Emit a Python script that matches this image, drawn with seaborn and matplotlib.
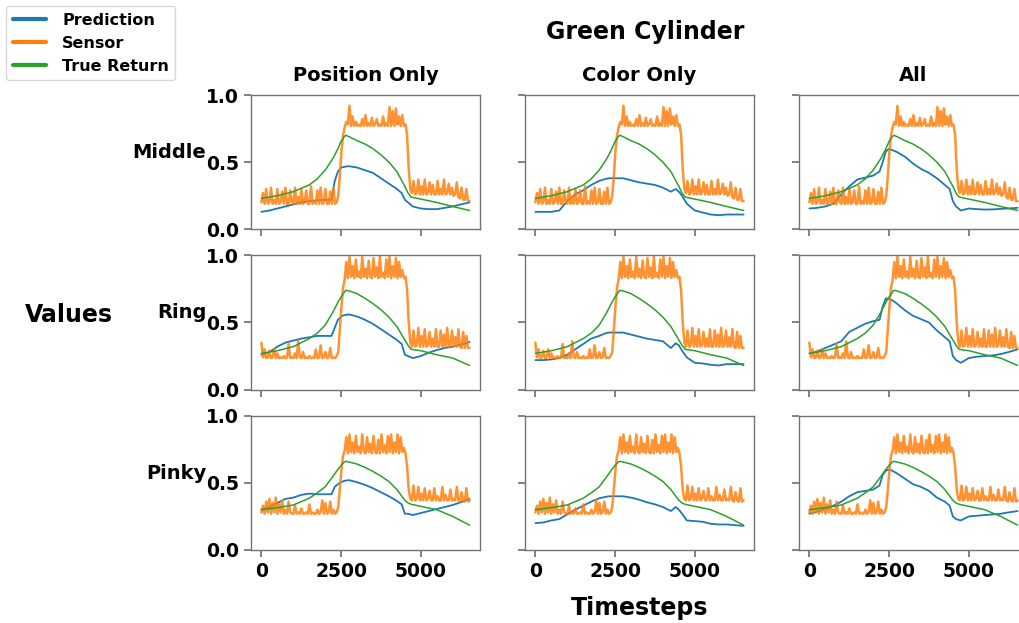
import numpy as np
import matplotlib
matplotlib.use("Agg")
import matplotlib.pyplot as plt
import seaborn as sns

# ---------------- data ----------------
rows = ["Middle", "Ring", "Pinky"]
cols = ["Position Only", "Color Only", "All"]
series_names = ["Prediction", "Sensor", "True Return"]
xticks = [0, 2500, 5000]
yticks = [0.0, 0.5, 1.0]
t_end = 6530

# sensor readings, sampled every ~50 timesteps
sensor_middle = [
    0.20, 0.27, 0.19, 0.30, 0.19, 0.20, 0.31, 0.19, 0.22, 0.19,
    0.30, 0.19, 0.20, 0.28, 0.19, 0.31, 0.19, 0.19, 0.29, 0.20,
    0.19, 0.31, 0.19, 0.24, 0.19, 0.30, 0.19, 0.20, 0.29, 0.19,
    0.19, 0.32, 0.19, 0.21, 0.19, 0.29, 0.19, 0.31, 0.19, 0.20,
    0.30, 0.19, 0.19, 0.28, 0.19, 0.31, 0.19, 0.20,
    0.25, 0.40, 0.58, 0.70, 0.76, 0.80,
    0.78, 0.92, 0.77, 0.84, 0.77, 0.80, 0.77, 0.78, 0.77, 0.82,
    0.77, 0.85, 0.77, 0.79, 0.77, 0.83, 0.77, 0.78, 0.82, 0.77,
    0.78, 0.77, 0.84, 0.77, 0.79, 0.77, 0.91, 0.77, 0.88, 0.77,
    0.90, 0.78, 0.84, 0.77, 0.85, 0.77, 0.78,
    0.70, 0.45, 0.30, 0.27,
    0.36, 0.26, 0.27, 0.37, 0.26, 0.32, 0.26, 0.37, 0.26, 0.27,
    0.35, 0.26, 0.33, 0.26, 0.26, 0.36, 0.26, 0.30, 0.26, 0.37,
    0.26, 0.27, 0.34, 0.26, 0.31, 0.25, 0.26, 0.35, 0.24, 0.23,
    0.31, 0.22, 0.22, 0.30, 0.21, 0.21,
]
sensor_ring = [
    0.35, 0.24, 0.30, 0.235, 0.24, 0.29, 0.235, 0.24, 0.30, 0.235,
    0.27, 0.235, 0.24, 0.235, 0.25, 0.235, 0.24, 0.34, 0.235, 0.24,
    0.235, 0.27, 0.235, 0.36, 0.24, 0.235, 0.28, 0.235, 0.24, 0.235,
    0.25, 0.235, 0.24, 0.235, 0.30, 0.235, 0.24, 0.33, 0.235, 0.24,
    0.28, 0.235, 0.24, 0.31, 0.235, 0.24, 0.235, 0.25,
    0.28, 0.45, 0.62, 0.76, 0.82, 0.95,
    0.83, 0.99, 0.84, 0.92, 0.83, 0.97, 0.84, 0.88, 0.83, 0.99,
    0.84, 0.90, 0.83, 0.96, 0.84, 0.83, 0.98, 0.84, 0.91, 0.83,
    0.99, 0.84, 0.87, 0.83, 0.97, 0.84, 0.99, 0.83, 0.92, 0.84,
    0.98, 0.83, 0.95, 0.84, 0.89, 0.83, 0.84,
    0.74, 0.50, 0.35, 0.32,
    0.44, 0.32, 0.33, 0.46, 0.32, 0.40, 0.32, 0.45, 0.32, 0.33,
    0.43, 0.32, 0.38, 0.32, 0.45, 0.32, 0.32, 0.44, 0.32, 0.41,
    0.32, 0.46, 0.32, 0.33, 0.44, 0.32, 0.39, 0.32, 0.45, 0.32,
    0.31, 0.43, 0.31, 0.40, 0.31, 0.31,
]
sensor_pinky = [
    0.28, 0.33, 0.27, 0.36, 0.28, 0.38, 0.27, 0.35, 0.28, 0.39,
    0.27, 0.34, 0.28, 0.37, 0.27, 0.30, 0.27, 0.36, 0.28, 0.27,
    0.27, 0.33, 0.27, 0.28, 0.27, 0.31, 0.27, 0.27, 0.28, 0.27,
    0.34, 0.27, 0.28, 0.27, 0.27, 0.30, 0.27, 0.28, 0.37, 0.27,
    0.35, 0.27, 0.28, 0.36, 0.27, 0.30, 0.27, 0.28,
    0.32, 0.45, 0.60, 0.70, 0.74, 0.84,
    0.72, 0.86, 0.73, 0.80, 0.72, 0.85, 0.73, 0.77, 0.72, 0.86,
    0.73, 0.72, 0.84, 0.73, 0.79, 0.72, 0.85, 0.73, 0.72, 0.82,
    0.72, 0.86, 0.73, 0.78, 0.72, 0.85, 0.73, 0.86, 0.72, 0.80,
    0.73, 0.86, 0.72, 0.84, 0.73, 0.76, 0.72,
    0.62, 0.45, 0.38, 0.37,
    0.48, 0.37, 0.38, 0.47, 0.37, 0.42, 0.37, 0.46, 0.37, 0.38,
    0.44, 0.37, 0.37, 0.46, 0.37, 0.40, 0.37, 0.37, 0.47, 0.37,
    0.41, 0.37, 0.37, 0.45, 0.37, 0.38, 0.37, 0.47, 0.37, 0.36,
    0.43, 0.37, 0.36, 0.46, 0.36, 0.37,
]

# true return (same for every column of a row)
t_return = [0, 500, 1000, 1500, 1750, 2000, 2250, 2400, 2500, 2600, 2650, 2750,
            3000, 3250, 3500, 3750, 4000, 4250, 4500, 4600, 4700, 5000, 5500, 6000, 6530]
return_middle = [0.23, 0.25, 0.28, 0.33, 0.375, 0.44, 0.53, 0.60, 0.655, 0.69, 0.70, 0.69,
                 0.66, 0.635, 0.60, 0.555, 0.50, 0.43, 0.32, 0.27, 0.24, 0.225, 0.20, 0.17, 0.14]
return_ring = [0.27, 0.29, 0.32, 0.38, 0.42, 0.48, 0.58, 0.65, 0.69, 0.725, 0.74, 0.735,
               0.715, 0.68, 0.64, 0.595, 0.54, 0.47, 0.37, 0.33, 0.30, 0.29, 0.26, 0.235, 0.18]
return_pinky = [0.30, 0.315, 0.335, 0.385, 0.425, 0.47, 0.55, 0.60, 0.63, 0.655, 0.66, 0.655,
                0.64, 0.615, 0.585, 0.55, 0.51, 0.45, 0.37, 0.35, 0.34, 0.325, 0.30, 0.25, 0.185]

# predictions
t_pred = [0, 250, 500, 750, 1000, 1250, 1500, 1750, 2000, 2200, 2300, 2400, 2500, 2600,
          2750, 3000, 3250, 3500, 3750, 4000, 4250, 4400, 4500, 4600, 4750, 5000, 5250,
          5500, 5750, 6000, 6250, 6530]
pred_middle_position = [0.13, 0.14, 0.155, 0.17, 0.185, 0.20, 0.21, 0.215, 0.22, 0.22, 0.36, 0.43,
                        0.46, 0.465, 0.47, 0.46, 0.44, 0.42, 0.38, 0.34, 0.30, 0.27, 0.22, 0.20,
                        0.17, 0.155, 0.15, 0.15, 0.16, 0.17, 0.185, 0.20]
pred_middle_color = [0.13, 0.13, 0.13, 0.14, 0.21, 0.26, 0.29, 0.33, 0.36, 0.375, 0.38, 0.38,
                     0.38, 0.38, 0.38, 0.365, 0.35, 0.34, 0.33, 0.31, 0.28, 0.30, 0.28, 0.25,
                     0.19, 0.14, 0.125, 0.11, 0.105, 0.11, 0.11, 0.11]
pred_middle_all = [0.155, 0.16, 0.17, 0.19, 0.26, 0.32, 0.37, 0.385, 0.40, 0.43, 0.50, 0.58,
                   0.60, 0.59, 0.575, 0.54, 0.49, 0.45, 0.42, 0.38, 0.33, 0.30, 0.21, 0.17,
                   0.14, 0.155, 0.15, 0.147, 0.148, 0.152, 0.155, 0.16]
pred_ring_position = [0.26, 0.28, 0.32, 0.35, 0.365, 0.38, 0.39, 0.40, 0.40, 0.40, 0.46, 0.52,
                      0.545, 0.555, 0.56, 0.545, 0.52, 0.49, 0.45, 0.41, 0.37, 0.34, 0.26, 0.25,
                      0.235, 0.25, 0.275, 0.295, 0.31, 0.32, 0.335, 0.355]
pred_ring_color = [0.22, 0.22, 0.225, 0.235, 0.26, 0.30, 0.34, 0.38, 0.40, 0.42, 0.425, 0.425,
                   0.425, 0.425, 0.425, 0.41, 0.395, 0.38, 0.37, 0.36, 0.31, 0.345, 0.33, 0.29,
                   0.24, 0.20, 0.195, 0.185, 0.18, 0.19, 0.19, 0.19]
pred_ring_all = [0.27, 0.285, 0.31, 0.335, 0.36, 0.43, 0.46, 0.49, 0.51, 0.52, 0.62, 0.68,
                 0.675, 0.665, 0.64, 0.59, 0.55, 0.525, 0.50, 0.44, 0.39, 0.36, 0.25, 0.22,
                 0.20, 0.235, 0.245, 0.25, 0.255, 0.265, 0.28, 0.30]
pred_pinky_position = [0.30, 0.32, 0.35, 0.38, 0.39, 0.41, 0.42, 0.415, 0.415, 0.415, 0.47, 0.49,
                       0.505, 0.515, 0.52, 0.505, 0.485, 0.46, 0.43, 0.40, 0.365, 0.34, 0.27, 0.27,
                       0.26, 0.275, 0.29, 0.305, 0.32, 0.335, 0.355, 0.38]
pred_pinky_color = [0.20, 0.205, 0.22, 0.23, 0.265, 0.30, 0.33, 0.36, 0.385, 0.395, 0.40, 0.40,
                    0.40, 0.40, 0.40, 0.39, 0.375, 0.355, 0.34, 0.32, 0.29, 0.32, 0.30, 0.27,
                    0.22, 0.215, 0.21, 0.195, 0.19, 0.19, 0.185, 0.18]
pred_pinky_all = [0.27, 0.285, 0.305, 0.33, 0.36, 0.40, 0.43, 0.44, 0.45, 0.48, 0.56, 0.59,
                  0.60, 0.59, 0.57, 0.53, 0.49, 0.47, 0.44, 0.39, 0.36, 0.33, 0.25, 0.23,
                  0.22, 0.25, 0.255, 0.26, 0.265, 0.27, 0.28, 0.29]

sensors = [sensor_middle, sensor_ring, sensor_pinky]
returns = [return_middle, return_ring, return_pinky]
preds = [
    [pred_middle_position, pred_middle_color, pred_middle_all],
    [pred_ring_position, pred_ring_color, pred_ring_all],
    [pred_pinky_position, pred_pinky_color, pred_pinky_all],
]

# ---------------- styling ----------------
sns.set_theme(style="ticks")
plt.rcParams.update({
    "font.family": ["DejaVu Sans"],
    "font.weight": "bold",
    "text.color": "black",
    "axes.labelcolor": "black",
    "axes.titlecolor": "black",
    "axes.edgecolor": "0.45",
    "axes.linewidth": 1.0,
    "xtick.color": "0.45",
    "ytick.color": "0.45",
    "xtick.labelcolor": "black",
    "ytick.labelcolor": "black",
    "xtick.labelsize": 13.5,
    "ytick.labelsize": 13.5,
    "xtick.major.size": 5,
    "ytick.major.size": 5,
})

C_PRED, C_SENS, C_RET = "#1f77b4", "#ff7f0e", "#2ca02c"

fig, axes = plt.subplots(3, 3, figsize=(10.19, 6.23), dpi=100, sharex=True, sharey=True)
fig.subplots_adjust(left=0.2463, right=1.0088, top=0.8475, bottom=0.1172,
                    wspace=0.1965, hspace=0.194)

for i in range(3):
    xs = np.linspace(0, t_end, len(sensors[i]))
    for j in range(3):
        ax = axes[i, j]
        sns.lineplot(x=t_pred, y=preds[i][j], ax=ax, color=C_PRED, lw=1.3,
                     label=series_names[0], legend=False, estimator=None)
        sns.lineplot(x=xs, y=sensors[i], ax=ax, color=C_SENS, lw=1.8, alpha=0.85,
                     label=series_names[1], legend=False, estimator=None)
        sns.lineplot(x=t_return, y=returns[i], ax=ax, color=C_RET, lw=1.1,
                     label=series_names[2], legend=False, estimator=None)
        ax.set_ylim(0, 1)
        ax.set_yticks(yticks)
        ax.set_xticks(xticks)
        ax.set_xlabel("")
        ax.set_ylabel("")
        for lab in ax.get_xticklabels() + ax.get_yticklabels():
            lab.set_fontweight("bold")
            lab.set_color("black")
        if i == 0:
            ax.set_title(cols[j], fontsize=14, fontweight="bold", pad=10, color="black")
        if j == 0:
            ax.set_ylabel(rows[i], rotation=0, ha="right", va="bottom",
                          fontsize=14, fontweight="bold", labelpad=0, color="black")

axes[0, 0].set_xlim(-326, 6856)

fig.text(645 / 1019, 1 - 32 / 623, "Green Cylinder", ha="center", va="center",
         fontsize=17, fontweight="bold", color="black")
fig.text(640 / 1019, 1 - 608 / 623, "Timesteps", ha="center", va="center",
         fontsize=17, fontweight="bold", color="black")
fig.text(69 / 1019, 1 - 315 / 623, "Values", ha="center", va="center",
         fontsize=17, fontweight="bold", color="black")

handles, labels = axes[0, 0].get_legend_handles_labels()
leg = fig.legend(handles, labels, loc="upper left", bbox_to_anchor=(0.003, 0.995),
                 prop={"weight": "bold", "size": 11.5}, frameon=True, handlelength=2.1,
                 handletextpad=1.0, borderaxespad=0.2)
for ln in leg.get_lines():
    ln.set_linewidth(3)
    ln.set_alpha(1)
for txt in leg.get_texts():
    txt.set_color("black")

fig.savefig("out.png", dpi=100)
